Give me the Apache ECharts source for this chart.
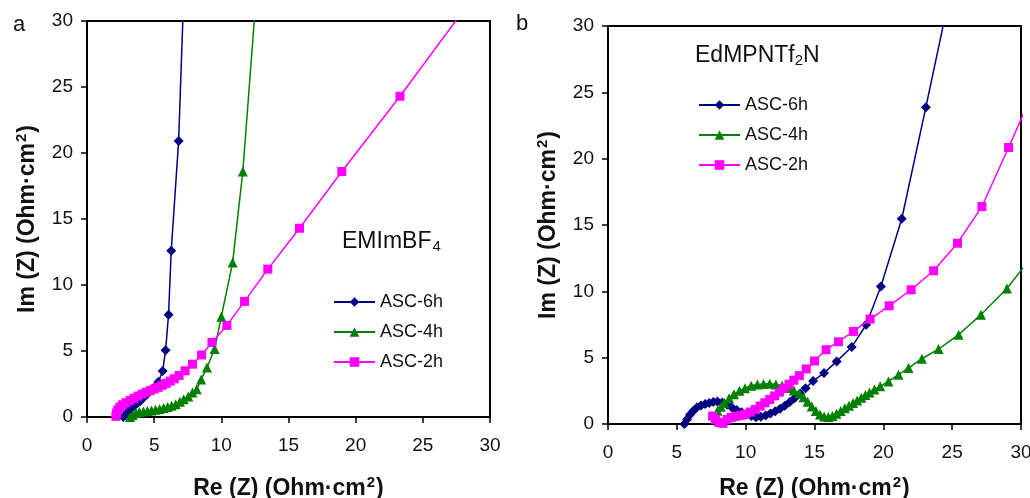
<!DOCTYPE html>
<html>
<head>
<meta charset="utf-8">
<script src="https://cdn.jsdelivr.net/npm/echarts@6/dist/echarts.min.js"></script>
<style>html,body{margin:0;padding:0;background:#fff}#c{width:1030px;height:498px}</style>
</head>
<body>
<div id="c"></div>
<script>
// ---------- data (Re Z, Im Z) in Ohm·cm² ----------
const seriesNames = ['ASC-6h', 'ASC-4h', 'ASC-2h'];
const xTicks = [0, 5, 10, 15, 20, 25, 30];
const yTicks = [0, 5, 10, 15, 20, 25, 30];

// Panel a: EMImBF4
const a_ASC6h = [[2.7,0],[2.85,0.15],[3.0,0.35],[3.2,0.55],[3.45,0.8],[3.7,1.0],[3.95,1.2],[4.2,1.45],[4.45,1.7],[4.7,1.95],[4.95,2.2],[5.31,2.65],[5.63,3.48],[5.85,5.05],[6.07,7.75],[6.27,12.6],[6.82,20.9],[7.2,32]];
const a_ASC4h = [[3.2,0],[3.4,0.15],[3.65,0.3],[3.9,0.38],[4.2,0.42],[4.5,0.45],[4.8,0.5],[5.1,0.55],[5.4,0.6],[5.7,0.68],[6.0,0.76],[6.3,0.85],[6.6,0.97],[6.92,1.16],[7.2,1.35],[7.54,1.56],[7.85,1.85],[8.17,2.1],[8.5,2.85],[8.93,3.75],[9.5,5.15],[10.0,7.6],[10.84,11.7],[11.6,18.6],[12.6,32]];
const a_ASC2h = [[2.15,0.05],[2.2,0.3],[2.3,0.55],[2.45,0.75],[2.65,0.92],[2.9,1.08],[3.2,1.25],[3.5,1.42],[3.8,1.58],[4.1,1.73],[4.4,1.87],[4.7,2.0],[5.0,2.12],[5.3,2.25],[5.6,2.4],[5.9,2.55],[6.2,2.72],[6.5,2.9],[6.85,3.15],[7.3,3.5],[7.85,4.0],[8.53,4.7],[9.3,5.65],[10.41,6.94],[11.73,8.76],[13.46,11.2],[15.82,14.3],[18.97,18.6],[23.3,24.3],[28.9,32]];

// Panel b: EdMPNTf2N
const b_ASC6h = [[5.55,0],[5.75,0.35],[5.95,0.7],[6.2,1.0],[6.45,1.25],[6.75,1.4],[7.05,1.5],[7.35,1.58],[7.65,1.65],[7.95,1.7],[8.3,1.62],[8.65,1.45],[9.0,1.25],[9.35,1.05],[9.7,0.88],[10.05,0.72],[10.4,0.6],[10.75,0.5],[11.1,0.55],[11.45,0.65],[11.8,0.8],[12.15,0.97],[12.5,1.15],[12.85,1.38],[13.2,1.65],[13.55,1.95],[13.95,2.3],[14.35,2.7],[14.9,3.25],[15.69,3.84],[16.61,4.72],[17.7,5.8],[18.75,7.48],[19.82,10.37],[21.34,15.47],[23.09,23.88],[24.75,32]];
const b_ASC4h = [[7.95,1.0],[8.2,1.3],[8.45,1.6],[8.8,1.95],[9.15,2.25],[9.55,2.5],[9.95,2.7],[10.4,2.88],[10.85,2.97],[11.3,3.02],[11.75,3.03],[12.2,2.98],[12.65,2.88],[13.1,2.72],[13.5,2.52],[13.9,2.3],[14.2,2.02],[14.5,1.68],[14.8,1.32],[15.1,0.98],[15.4,0.72],[15.7,0.56],[16.0,0.52],[16.3,0.6],[16.6,0.78],[16.9,0.98],[17.2,1.18],[17.5,1.38],[17.8,1.58],[18.1,1.78],[18.4,1.98],[18.7,2.18],[19.0,2.38],[19.35,2.6],[19.77,2.84],[20.37,3.21],[21.1,3.72],[21.83,4.22],[22.8,4.92],[24.01,5.65],[25.47,6.73],[27.09,8.24],[28.98,10.22],[31.0,12.9]];
const b_ASC2h = [[7.6,0.6],[7.8,0.35],[8.05,0.12],[8.35,0.05],[8.65,0.35],[8.95,0.5],[9.3,0.58],[9.65,0.65],[10.0,0.75],[10.35,0.9],[10.7,1.1],[11.05,1.35],[11.4,1.6],[11.75,1.85],[12.1,2.12],[12.45,2.4],[12.8,2.7],[13.15,3.0],[13.5,3.3],[13.9,3.65],[14.4,4.15],[15.0,4.75],[15.84,5.6],[16.74,6.2],[17.83,6.98],[19.04,7.91],[20.42,8.91],[22.02,10.12],[23.65,11.55],[25.39,13.63],[27.16,16.39],[29.1,20.84],[31.0,25.3]];

// ---------- styles ----------
const FONT = 'Liberation Sans, Arial, Helvetica, sans-serif';
const colors = ['#000080', '#008000', '#ff00ff'];
const symbols = ['diamond', 'triangle', 'rect'];
const symbolSizes = [10, 10, 9];

const nameRich = {
  t: { fontSize: 23, fontWeight: 'bold', fontFamily: FONT, color: '#111', lineHeight: 28 },
  s: { fontSize: 15, fontWeight: 'bold', fontFamily: FONT, color: '#111', verticalAlign: 'top', lineHeight: 12, padding: [0, 1, 0, 1] }
};

function xAxis(gridIndex, gap) {
  return {
    gridIndex, type: 'value', min: 0, max: 30, interval: 5,
    name: '{t|Re (Z) (Ohm·cm}{s|2}{t|)}', nameLocation: 'middle', nameGap: gap,
    nameTextStyle: { rich: nameRich },
    axisLine: { show: true, onZero: false, lineStyle: { color: '#000', width: 2 } },
    axisTick: { show: true, inside: false, length: 6, lineStyle: { color: '#000', width: 1.5 } },
    axisLabel: { fontSize: 19, fontFamily: FONT, color: '#111', margin: 19,
      formatter: v => xTicks.includes(v) ? String(v) : '' },
    splitLine: { show: false }
  };
}
function yAxis(gridIndex) {
  return {
    gridIndex, type: 'value', min: 0, max: 30, interval: 5,
    name: '{t|Im (Z) (Ohm·cm}{s|2}{t|)}', nameLocation: 'middle', nameGap: 45, nameRotate: 90,
    nameTextStyle: { rich: nameRich },
    axisLine: { show: true, onZero: false, lineStyle: { color: '#000', width: 2 } },
    axisTick: { show: true, inside: false, length: 6, lineStyle: { color: '#000', width: 1.5 } },
    axisLabel: { fontSize: 19, fontFamily: FONT, color: '#111', margin: 14,
      formatter: v => yTicks.includes(v) ? String(v) : '' },
    splitLine: { show: false }
  };
}
function mkSeries(name, data, idx, gi) {
  return {
    name, type: 'line', xAxisIndex: gi, yAxisIndex: gi, data,
    clip: true, smooth: false,
    symbol: symbols[idx], symbolSize: symbolSizes[idx], showAllSymbol: true,
    lineStyle: { color: colors[idx], width: 1.5 },
    itemStyle: { color: colors[idx] },
    z: 3 + idx
  };
}

const legendCommon = {
  orient: 'vertical', data: seriesNames, selectedMode: false,
  itemWidth: 41, itemHeight: 12, itemGap: 12,
  textStyle: { fontSize: 18, fontFamily: FONT, color: '#111' }
};

const option = {
  animation: false,
  backgroundColor: '#fff',
  grid: [
    { left: 87, top: 21, width: 403, height: 396, show: true, borderColor: '#000', borderWidth: 2, backgroundColor: 'transparent', outerBoundsMode: 'none', containLabel: false },
    { left: 608, top: 26, width: 413, height: 398, show: true, borderColor: '#000', borderWidth: 2, backgroundColor: 'transparent', outerBoundsMode: 'none', containLabel: false }
  ],
  xAxis: [xAxis(0, 58), xAxis(1, 51)],
  yAxis: [yAxis(0), yAxis(1)],
  legend: [
    Object.assign({ left: 328, top: 288 }, legendCommon),
    Object.assign({ left: 693, top: 91 }, legendCommon)
  ],
  graphic: [
    { type: 'text', left: 13, top: 14, style: { text: 'a', fontSize: 22, fontFamily: FONT, fill: '#111' } },
    { type: 'text', left: 516, top: 13, style: { text: 'b', fontSize: 22, fontFamily: FONT, fill: '#111' } },
    { type: 'text', left: 342, top: 230, style: {
      text: '{t|EMImBF}{u|4}', rich: {
        t: { fontSize: 23, fontFamily: FONT, fill: '#111', lineHeight: 26 },
        u: { fontSize: 15, fontFamily: FONT, fill: '#111', verticalAlign: 'bottom', lineHeight: 26, padding: [8, 0, 0, 1] }
      } } },
    { type: 'text', left: 695, top: 44, style: {
      text: '{t|EdMPNTf}{u|2}{t|N}', rich: {
        t: { fontSize: 23, fontFamily: FONT, fill: '#111', lineHeight: 26 },
        u: { fontSize: 15, fontFamily: FONT, fill: '#111', verticalAlign: 'bottom', lineHeight: 26, padding: [8, 0, 0, 0] }
      } } }
  ],
  series: [
    mkSeries('ASC-6h', a_ASC6h, 0, 0),
    mkSeries('ASC-4h', a_ASC4h, 1, 0),
    mkSeries('ASC-2h', a_ASC2h, 2, 0),
    mkSeries('ASC-6h', b_ASC6h, 0, 1),
    mkSeries('ASC-4h', b_ASC4h, 1, 1),
    mkSeries('ASC-2h', b_ASC2h, 2, 1)
  ]
};

const chart = echarts.init(document.getElementById('c'), null, { renderer: 'canvas' });
chart.setOption(option);
</script>
</body>
</html>
